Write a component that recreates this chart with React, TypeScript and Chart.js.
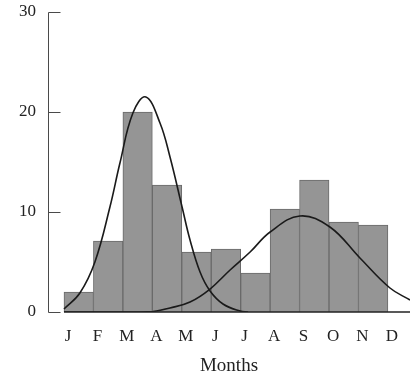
import React, { useEffect, useRef } from "react";
import { Chart, registerables } from "chart.js";

Chart.register(...registerables);

// ---- data ----
const monthLabels = ["J", "F", "M", "A", "M", "J", "J", "A", "S", "O", "N", "D"];
const barValues = [2.0, 7.1, 20.0, 12.7, 6.0, 6.3, 3.9, 10.3, 13.2, 9.0, 8.7];

const curve1X = [0, 0.54, 1.05, 1.56, 1.9, 2.34, 2.78, 3.26, 3.6, 4.01, 4.28, 4.62, 4.96, 5.4, 5.98, 6.25];
const curve1Y = [0.3, 1.9, 5.0, 10.5, 14.9, 19.9, 21.5, 18.9, 15.5, 10.5, 7.2, 4.0, 2.1, 0.8, 0.1, 0];

const curve2X = [0, 1.5, 2.48, 3.02, 3.6, 4.28, 4.96, 5.64, 6.32, 7.0, 8.01, 9.03, 10.05, 11.07, 11.75];
const curve2Y = [0, 0, 0, 0.05, 0.4, 1.0, 2.3, 4.2, 6.0, 8.0, 9.6, 8.5, 5.4, 2.4, 1.2];

const yTicks = [0, 10, 20, 30];
const xAxisTitle = "Months";

const X_MIN = -0.543;
const X_MAX = 11.75;

const FONT = "'Liberation Serif', 'Times New Roman', Times, serif";

const axesPlugin = {
  id: "customAxes",
  afterDraw(chart: any) {
    const { ctx, chartArea, scales } = chart;
    const x = scales.x;
    const y = scales.y;
    ctx.save();
    ctx.strokeStyle = "#4a4a4a";
    ctx.lineWidth = 1;
    const ax = Math.round(chartArea.left) + 0.5;
    ctx.beginPath();
    ctx.moveTo(ax, Math.round(y.getPixelForValue(30)) + 0.5);
    ctx.lineTo(ax, Math.round(y.getPixelForValue(0)) + 0.5);
    yTicks.forEach((v) => {
      const py = Math.round(y.getPixelForValue(v)) + 0.5;
      ctx.moveTo(ax, py);
      ctx.lineTo(ax + 12, py);
    });
    ctx.stroke();
    ctx.strokeStyle = "#222";
    ctx.lineWidth = 1.4;
    ctx.beginPath();
    const by = y.getPixelForValue(0);
    ctx.moveTo(x.getPixelForValue(0), by);
    ctx.lineTo(chartArea.right, by);
    ctx.stroke();
    ctx.restore();
  },
};

export default function App() {
  const canvasRef = useRef<HTMLCanvasElement | null>(null);

  useEffect(() => {
    const canvas = canvasRef.current;
    if (!canvas) return;
    const chart = new Chart(canvas, {
      type: "bar",
      data: {
        datasets: [
          {
            type: "line",
            data: curve1X.map((v, i) => ({ x: v, y: curve1Y[i] })),
            borderColor: "#1a1a1a",
            borderWidth: 1.6,
            pointRadius: 0,
            fill: false,
            tension: 0.4,
            order: 1,
          } as any,
          {
            type: "line",
            data: curve2X.map((v, i) => ({ x: v, y: curve2Y[i] })),
            borderColor: "#1a1a1a",
            borderWidth: 1.6,
            pointRadius: 0,
            fill: false,
            tension: 0.4,
            order: 1,
          } as any,
          {
            type: "bar",
            data: barValues.map((v, i) => ({ x: i + 0.5, y: v })),
            backgroundColor: "#959595",
            borderColor: "#6a6a6a",
            borderWidth: 1,
            barPercentage: 1,
            categoryPercentage: 1,
            order: 2,
          } as any,
        ],
      },
      options: {
        responsive: false,
        animation: false,
        devicePixelRatio: 1,
        layout: { padding: { top: 12, right: 0, left: 0, bottom: 0 } },
        plugins: { legend: { display: false }, tooltip: { enabled: false } },
        scales: {
          x: {
            type: "linear",
            min: X_MIN,
            max: X_MAX,
            offset: false,
            grid: { display: false, drawTicks: false },
            border: { display: false },
            afterBuildTicks: (scale: any) => {
              scale.ticks = monthLabels.map((_, i) => ({ value: i }));
            },
            afterFit: (scale: any) => {
              scale.height = 66;
              scale.paddingLeft = 0;
              scale.paddingRight = 0;
            },
            ticks: {
              autoSkip: false,
              maxRotation: 0,
              padding: 14,
              labelOffset: 4,
              color: "#222",
              font: { family: FONT, size: 17 },
              callback: (value: any) => monthLabels[Math.round(Number(value))] ?? "",
            },
            title: {
              display: true,
              text: xAxisTitle,
              color: "#222",
              font: { family: FONT, size: 19 },
              padding: { top: 0, bottom: 1 },
            },
          },
          y: {
            type: "linear",
            min: 0,
            max: 30,
            grid: { display: false, drawTicks: false },
            border: { display: false },
            afterBuildTicks: (scale: any) => {
              scale.ticks = yTicks.map((v) => ({ value: v }));
            },
            afterFit: (scale: any) => {
              scale.width = 48;
              scale.paddingTop = 0;
              scale.paddingBottom = 0;
            },
            ticks: {
              padding: 12,
              color: "#222",
              font: { family: FONT, size: 17 },
            },
          },
        },
      },
      plugins: [axesPlugin],
    } as any);
    return () => chart.destroy();
  }, []);

  return (
    <canvas
      ref={canvasRef}
      width={410}
      height={378}
      style={{ position: "absolute", left: 0, top: 0, display: "block", width: 410, height: 378 }}
    />
  );
}
